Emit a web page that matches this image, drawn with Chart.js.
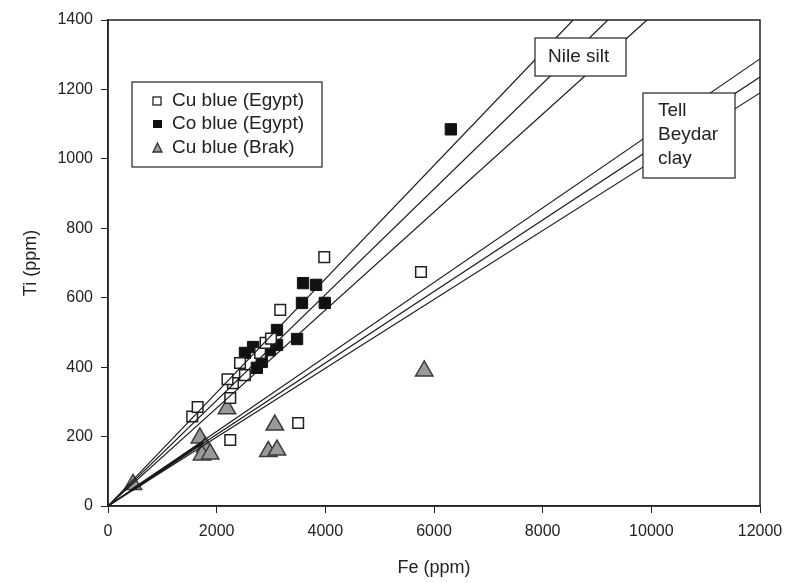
<!DOCTYPE html>
<html>
<head>
<meta charset="utf-8">
<script src="https://cdn.jsdelivr.net/npm/chart.js@4.4.0/dist/chart.umd.min.js"></script>
<style>
  html, body { margin: 0; padding: 0; background: #fff; }
  #wrap { width: 792px; height: 583px; }
</style>
</head>
<body>
<div id="wrap"><canvas id="chart" width="792" height="583"></canvas></div>
<script>
// DATA

const cuEgyptFe = [1550, 1650, 2250, 2250, 2300, 2200, 2430, 2520, 2800, 2900, 3000, 3170, 3500, 3980, 5760];
const cuEgyptTi = [258, 285, 190, 311, 354, 365, 412, 377, 441, 470, 482, 565, 239, 717, 674];

const coEgyptFe = [2520, 2670, 2740, 2830, 2980, 3110, 3110, 3480, 3570, 3590, 3830, 3990, 6310];
const coEgyptTi = [441, 458, 398, 415, 449, 464, 507, 481, 585, 642, 637, 585, 1085];

const brakFe = [460, 1690, 1790, 1730, 1880, 2190, 2950, 3070, 3110, 5820];
const brakTi = [62, 196, 170, 147, 150, 280, 157, 233, 161, 389];

// reference lines through the origin
const nileEndFe = [8560, 9200, 9920];   // where they meet Ti = 1400
const nileEndTi = 1400;
const beydarEndFe = 12000;
const beydarEndTi = [1288, 1236, 1190]; // value at Fe = 12000
const thickFe = [450, 1750];
const thickTi = [47, 184];

const xTicks = [0, 2000, 4000, 6000, 8000, 10000, 12000];
const yTicks = [0, 200, 400, 600, 800, 1000, 1200, 1400];

const legendLabels = ["Cu blue (Egypt)", "Co blue (Egypt)", "Cu blue (Brak)"];

function pts(xs, ys) {
  return xs.map((x, i) => ({ x: x, y: ys[i] }));
}

function refLine(x2, y2, w) {
  return {
    data: [{ x: 0, y: 0 }, { x: x2, y: y2 }],
    showLine: true,
    borderColor: "#1a1a1a",
    borderWidth: w,
    pointRadius: 0,
    pointHoverRadius: 0
  };
}

const datasets = [];
nileEndFe.forEach(fe => datasets.push(refLine(fe, nileEndTi, 1.2)));
beydarEndTi.forEach(ti => datasets.push(refLine(beydarEndFe, ti, 1.2)));
datasets.push(refLine(thickFe[1], thickTi[1], 3));
datasets[datasets.length - 1].data = pts(thickFe, thickTi);

datasets.push({
  label: legendLabels[0],
  data: pts(cuEgyptFe, cuEgyptTi),
  pointStyle: "rect",
  pointRadius: 7.5,
  backgroundColor: "#fff",
  borderColor: "#222",
  borderWidth: 1.5
});
datasets.push({
  label: legendLabels[1],
  data: pts(coEgyptFe, coEgyptTi),
  pointStyle: "rect",
  pointRadius: 8,
  backgroundColor: "#111",
  borderColor: "#111",
  borderWidth: 1
});
datasets.push({
  label: legendLabels[2],
  data: pts(brakFe, brakTi),
  pointStyle: "triangle",
  pointRadius: 10,
  backgroundColor: "#9a9a9a",
  borderColor: "#3a3a3a",
  borderWidth: 1.5
});

// FRAME, LEGEND AND LABEL BOXES

const extras = {
  id: "extras",
  afterDatasetsDraw(chart) {
    const ctx = chart.ctx;
    const a = chart.chartArea;
    ctx.save();
    ctx.strokeStyle = "#222";
    ctx.lineWidth = 1.5;
    ctx.strokeRect(a.left, a.top, a.right - a.left, a.bottom - a.top);

    ctx.font = "19px Arial, 'Liberation Sans', sans-serif";
    ctx.textBaseline = "middle";

    // legend box
    ctx.fillStyle = "#fff";
    ctx.fillRect(132, 82, 190, 85);
    ctx.strokeStyle = "#222";
    ctx.lineWidth = 1.2;
    ctx.strokeRect(132, 82, 190, 85);
    const rows = [101, 124, 148];
    // open square
    ctx.lineWidth = 1.3;
    ctx.strokeStyle = "#222";
    ctx.strokeRect(153, rows[0] - 4, 8, 8);
    // filled square
    ctx.fillStyle = "#111";
    ctx.fillRect(153, rows[1] - 4, 9, 8);
    // triangle
    ctx.beginPath();
    ctx.moveTo(157.5, rows[2] - 5);
    ctx.lineTo(162, rows[2] + 4);
    ctx.lineTo(153, rows[2] + 4);
    ctx.closePath();
    ctx.fillStyle = "#9a9a9a";
    ctx.fill();
    ctx.strokeStyle = "#333";
    ctx.stroke();
    ctx.fillStyle = "#222";
    legendLabels.forEach((t, i) => ctx.fillText(t, 172, rows[i]));

    // Nile silt box
    ctx.fillStyle = "#fff";
    ctx.fillRect(535, 38, 91, 38);
    ctx.strokeStyle = "#222";
    ctx.lineWidth = 1.2;
    ctx.strokeRect(535, 38, 91, 38);
    ctx.fillStyle = "#222";
    ctx.fillText("Nile silt", 548, 57);

    // Tell Beydar clay box
    ctx.fillStyle = "#fff";
    ctx.fillRect(643, 93, 92, 85);
    ctx.strokeRect(643, 93, 92, 85);
    ctx.fillStyle = "#222";
    ctx.fillText("Tell", 658, 111);
    ctx.fillText("Beydar", 658, 135);
    ctx.fillText("clay", 658, 159);
    ctx.restore();
  }
};

// CHART

const family = "Arial, 'Liberation Sans', sans-serif";
const tickFont = { family: family, size: 16 };

new Chart(document.getElementById("chart").getContext("2d"), {
  type: "scatter",
  data: { datasets },
  options: {
    responsive: false,
    animation: false,
    layout: { padding: { top: 20, right: 32, left: 0, bottom: 0 } },
    plugins: {
      legend: { display: false },
      tooltip: { enabled: false }
    },
    scales: {
      x: {
        type: "linear",
        min: 0,
        max: 12000,
        afterBuildTicks: s => { s.ticks = xTicks.map(v => ({ value: v })); },
        afterFit: s => { s.height = 77; },
        ticks: { font: tickFont, color: "#222", padding: 9, maxRotation: 0, callback: v => String(v) },
        grid: { drawOnChartArea: false, tickLength: 7, color: "#222" },
        border: { color: "#222", width: 1.5 },
        title: { display: true, text: "Fe (ppm)", font: { family: family, size: 18 }, color: "#222", padding: { top: 6 } }
      },
      y: {
        type: "linear",
        min: 0,
        max: 1400,
        afterBuildTicks: s => { s.ticks = yTicks.map(v => ({ value: v })); },
        afterFit: s => { s.width = 108; },
        ticks: { font: tickFont, color: "#222", padding: 8, callback: v => String(v) },
        grid: { drawOnChartArea: false, tickLength: 7, color: "#222" },
        border: { color: "#222", width: 1.5 },
        title: { display: true, text: "Ti (ppm)", font: { family: family, size: 18 }, color: "#222", padding: { top: 20, bottom: 0 } }
      }
    }
  },
  plugins: [extras]
});
</script>
</body>
</html>
